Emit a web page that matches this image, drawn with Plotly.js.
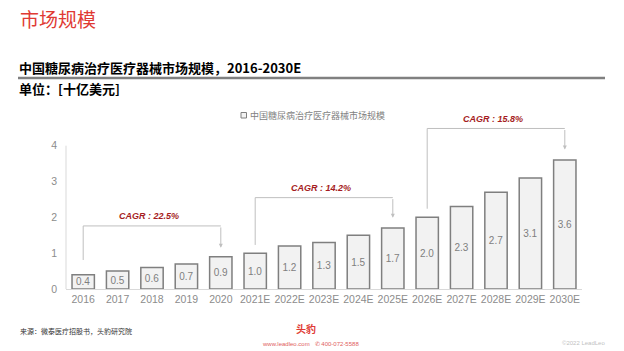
<!DOCTYPE html>
<html>
<head>
<meta charset="utf-8">
<script src="https://cdn.plot.ly/plotly-3.0.1.min.js"></script>
<style>
html,body{margin:0;padding:0;background:#fff;}
#chart{width:624px;height:351px;}
</style>
</head>
<body>
<div id="chart"></div>
<script>
// ---- data ----
const categories = ["2016","2017","2018","2019","2020","2021E","2022E","2023E","2024E","2025E","2026E","2027E","2028E","2029E","2030E"];
const marketSize = [0.4,0.5,0.6,0.7,0.9,1.0,1.2,1.3,1.5,1.7,2.0,2.3,2.7,3.1,3.6];
const valueLabels = ["0.4","0.5","0.6","0.7","0.9","1.0","1.2","1.3","1.5","1.7","2.0","2.3","2.7","3.1","3.6"];
const seriesName = "中国糖尿病治疗医疗器械市场规模";
const yTicks = [0,1,2,3,4];
const cagrFrom = ["2016","2021E","2026E"];
const cagrTo = ["2020","2025E","2030E"];
const cagrText = ["CAGR : 22.5%","CAGR : 14.2%","CAGR : 15.8%"];
const cagrTop = [1.76,2.55,4.48];
const cagrLeftBottom = [0.81,1.23,2.24];
const cagrRightBottom = [1.15,1.99,3.89];

const FONT = "Liberation Sans, Arial, Noto Sans CJK SC, sans-serif";
const CJK = "Noto Sans CJK SC, Liberation Sans, sans-serif";

const trace = {
  type: "bar",
  x: categories,
  y: marketSize,
  name: seriesName,
  text: valueLabels,
  textposition: "inside",
  insidetextanchor: "middle",
  constraintext: "none",
  textfont: {family: FONT, size: 10, color: "#7f7f7f"},
  marker: {color: "#f2f2f2", line: {color: "#7f7f7f", width: 1.5}},
  hoverinfo: "none",
  showlegend: false
};

const shapes = [];
const annotations = [];
const lineStyle = {color: "#bfbfbf", width: 1};
for (let i = 0; i < cagrText.length; i++) {
  const a = categories.indexOf(cagrFrom[i]);
  const b = categories.indexOf(cagrTo[i]);
  shapes.push({type: "line", xref: "x", yref: "y", x0: a, x1: a, y0: cagrLeftBottom[i], y1: cagrTop[i], line: lineStyle});
  shapes.push({type: "line", xref: "x", yref: "y", x0: a, x1: b, y0: cagrTop[i], y1: cagrTop[i], line: lineStyle});
  annotations.push({
    xref: "x", yref: "y", axref: "x", ayref: "y",
    x: b, y: cagrRightBottom[i], ax: b, ay: cagrTop[i],
    showarrow: true, arrowhead: 2, arrowsize: 0.8, arrowwidth: 1, arrowcolor: "#bfbfbf", text: ""
  });
  annotations.push({
    xref: "x", yref: "y",
    x: (a + b) / 2 - 0.1, y: cagrTop[i] + 0.27, text: "<b><i>" + cagrText[i] + "</i></b>", showarrow: false,
    font: {family: FONT, size: 9, color: "#a51c22"}
  });
}

const L = 66, PW = 516, T = 117, PH = 172;
function px(xp){ return (xp - L) / PW; }
function py(yp){ return (T + PH - yp) / PH; }

// y axis line 0..4
shapes.push({type: "line", xref: "paper", yref: "y", x0: 0, x1: 0, y0: 0, y1: 4, line: {color: "#d9d9d9", width: 1}});
// header rule
shapes.push({type: "line", xref: "paper", yref: "paper", x0: px(18), x1: px(605), y0: py(78), y1: py(78), line: {color: "#808080", width: 2.5}});
// legend swatch
shapes.push({type: "rect", xref: "paper", yref: "paper", x0: px(241), x1: px(246.5), y0: py(118), y1: py(112.5),
  fillcolor: "#f2f2f2", line: {color: "#7f7f7f", width: 1}});
annotations.push({xref:"paper", yref:"paper", x:px(248), y:py(115.5), xanchor:"left", yanchor:"middle", showarrow:false,
  text: seriesName, font:{family:CJK, size:9, color:"#7f7f7f"}});

annotations.push({xref:"paper", yref:"paper", x:px(18), y:py(18), xanchor:"left", yanchor:"middle", showarrow:false,
  text:"市场规模", font:{family:CJK, size:19, color:"#e03a33"}});
annotations.push({xref:"paper", yref:"paper", x:px(17), y:py(68), xanchor:"left", yanchor:"middle", showarrow:false,
  text:"<b>中国糖尿病治疗医疗器械市场规模，2016-2030E</b>", font:{family:CJK, size:13, color:"#000000"}});
annotations.push({xref:"paper", yref:"paper", x:px(17), y:py(89), xanchor:"left", yanchor:"middle", showarrow:false,
  text:"<b>单位：[十亿美元]</b>", font:{family:CJK, size:13, color:"#000000"}});
annotations.push({xref:"paper", yref:"paper", x:px(18), y:py(331), xanchor:"left", yanchor:"middle", showarrow:false,
  text:"来源：微泰医疗招股书，头豹研究院", font:{family:CJK, size:7, color:"#333333"}});
annotations.push({xref:"paper", yref:"paper", x:px(306), y:py(328), xanchor:"center", yanchor:"middle", showarrow:false,
  text:"<b>头豹</b>", font:{family:CJK, size:10, color:"#e03a33"}});
annotations.push({xref:"paper", yref:"paper", x:px(310), y:py(344), xanchor:"center", yanchor:"middle", showarrow:false,
  text:"www.leadleo.com   ✆ 400-072-5588", font:{family:FONT, size:6, color:"#e06060"}});
annotations.push({xref:"paper", yref:"paper", x:px(607), y:py(343), xanchor:"right", yanchor:"middle", showarrow:false,
  text:"©2022 LeadLeo", font:{family:FONT, size:6, color:"#bfbfbf"}});

const layout = {
  width: 624, height: 351,
  margin: {l: L, r: 624 - L - PW, t: T, b: 351 - T - PH},
  paper_bgcolor: "#ffffff", plot_bgcolor: "#ffffff",
  bargap: 0.35,
  showlegend: false,
  xaxis: {type: "category", range: [-0.5, categories.length - 0.5], autorange: false,
          tickfont: {family: FONT, size: 10.5, color: "#8c8c8c"},
          showline: true, linecolor: "#d9d9d9", linewidth: 1, ticks: "", showgrid: false, fixedrange: true},
  yaxis: {range: [0, 4.8], autorange: false, tickvals: yTicks, ticktext: yTicks.map(String), showgrid: false, zeroline: false,
          showline: false, ticks: "", tickfont: {family: FONT, size: 10.5, color: "#8c8c8c"}, ticklabelstandoff: 8, fixedrange: true},
  shapes: shapes,
  annotations: annotations
};

Plotly.newPlot("chart", [trace], layout, {displayModeBar: false, staticPlot: true});
</script>
</body>
</html>
